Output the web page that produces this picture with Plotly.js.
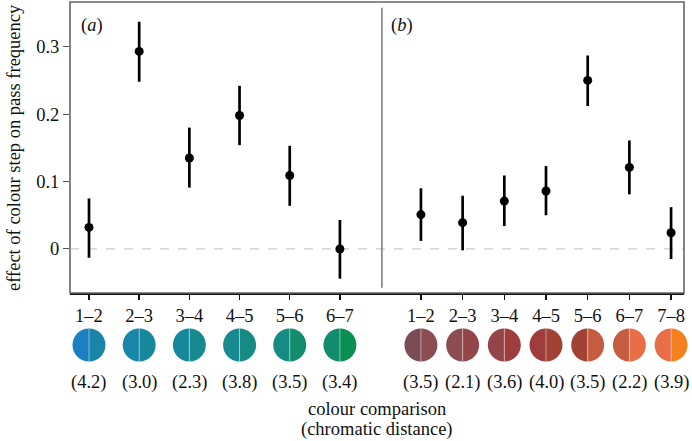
<!DOCTYPE html>
<html>
<head>
<meta charset="utf-8">
<script src="https://cdn.plot.ly/plotly-3.0.1.min.js"></script>
<style>html,body{margin:0;padding:0;background:#fff;overflow:hidden;}#chart{width:692px;height:441px;}</style>
</head>
<body>
<div id="chart"></div>
<script>
// ---- data ----
const catsA = ['1–2', '2–3', '3–4', '4–5', '5–6', '6–7'];
const valsA = [0.032, 0.293, 0.135, 0.198, 0.109, 0.000];
const hiA   = [0.075, 0.337, 0.180, 0.242, 0.153, 0.043];
const loA   = [-0.013, 0.248, 0.091, 0.154, 0.064, -0.044];
const distA = ['(4.2)', '(3.0)', '(2.3)', '(3.8)', '(3.5)', '(3.4)'];
const coloursA = ['#1b7fc1', '#1985a8', '#17889b', '#178a90', '#168b84', '#128c6c', '#0a8f53'];

const catsB = ['1–2', '2–3', '3–4', '4–5', '5–6', '6–7', '7–8'];
const valsB = [0.051, 0.039, 0.071, 0.086, 0.250, 0.121, 0.024];
const hiB   = [0.090, 0.079, 0.109, 0.123, 0.287, 0.161, 0.062];
const loB   = [0.012, -0.002, 0.034, 0.050, 0.212, 0.081, -0.015];
const distB = ['(3.5)', '(2.1)', '(3.6)', '(4.0)', '(3.5)', '(2.2)', '(3.9)'];
const coloursB = ['#7b4b56', '#8d4b52', '#944549', '#9f3d3d', '#a24235', '#c65c3f', '#e96d46', '#f5801e'];

const yTicks = [0, 0.1, 0.2, 0.3];
const yTickText = ['0', '0.1', '0.2', '0.3'];

// ---- helpers ----
const F = 'Liberation Serif, Times New Roman, serif';
const FS = 18.5;
const idx = a => a.map((_, i) => i + 1);
const up = (v, h) => v.map((x, i) => h[i] - x);
const dn = (v, l) => v.map((x, i) => x - l[i]);

const axA = {domain: [0, 0.508], range: [0.6215, 6.837]};
const axB = {domain: [0.508, 1], range: [0.064, 7.31]};
// convert an axis value to a paper fraction using the axis' own domain and range
const toPaper = (ax, v) => ax.domain[0] + (v - ax.range[0]) / (ax.range[1] - ax.range[0]) * (ax.domain[1] - ax.domain[0]);

function pointTrace(cats, vals, hi, lo, xa, ya) {
  return {
    type: 'scatter', mode: 'markers', x: idx(cats), y: vals, xaxis: xa, yaxis: ya,
    marker: {color: '#000', size: 9},
    error_y: {type: 'data', symmetric: false, array: up(vals, hi), arrayminus: dn(vals, lo),
              color: '#000', thickness: 2.7, width: 0},
    hoverinfo: 'skip', showlegend: false, cliponaxis: false
  };
}

const R = 16.5, K = 9.1;
const circleY = -0.179;
const shapes = [];
const annotations = [];

function addCircles(cats, colours, dist, ax) {
  cats.forEach((c, i) => {
    const xa = toPaper(ax, i + 1);
    // left half
    shapes.push({type: 'path', xref: 'paper', yref: 'paper', xsizemode: 'pixel', ysizemode: 'pixel',
      xanchor: xa, yanchor: circleY,
      path: `M0,${-R} C${-K},${-R} ${-R},${-K} ${-R},0 C${-R},${K} ${-K},${R} 0,${R} Z`,
      fillcolor: colours[i], line: {width: 0}});
    // right half
    shapes.push({type: 'path', xref: 'paper', yref: 'paper', xsizemode: 'pixel', ysizemode: 'pixel',
      xanchor: xa, yanchor: circleY,
      path: `M0,${-R} C${K},${-R} ${R},${-K} ${R},0 C${R},${K} ${K},${R} 0,${R} Z`,
      fillcolor: colours[i + 1], line: {width: 0}});
    shapes.push({type: 'path', xref: 'paper', yref: 'paper', xsizemode: 'pixel', ysizemode: 'pixel',
      xanchor: xa, yanchor: circleY, path: `M0,${-R + 0.5} L0,${R - 0.5}`,
      line: {color: 'rgba(255,255,255,0.45)', width: 1}});
    annotations.push({xref: 'paper', yref: 'paper', x: xa, y: -0.307, text: dist[i], showarrow: false,
      xanchor: 'center', yanchor: 'middle', font: {family: F, size: FS, color: '#111'}});
  });
}
addCircles(catsA, coloursA, distA, axA);
addCircles(catsB, coloursB, distB, axB);

// frame, separator and zero line
shapes.unshift({type: 'line', xref: 'paper', yref: 'y', x0: 0, x1: 1, y0: 0, y1: 0,
  line: {color: '#cccccc', width: 1.2, dash: 'dash'}, layer: 'below'});
shapes.push({type: 'rect', xref: 'paper', yref: 'paper', x0: 0, x1: 1, y0: 0, y1: 1,
  line: {color: '#666', width: 1.6}});
shapes.push({type: 'line', xref: 'paper', yref: 'paper', x0: 0.508, x1: 0.508, y0: 0.018, y1: 0.98,
  line: {color: '#777', width: 1.5}});

annotations.push(
  {xref: 'paper', yref: 'paper', x: 0.014, y: 0.918, xanchor: 'left', yanchor: 'middle', showarrow: false,
   text: '(<i>a</i>)', font: {family: F, size: FS, color: '#111'}},
  {xref: 'paper', yref: 'paper', x: 0.52, y: 0.918, xanchor: 'left', yanchor: 'middle', showarrow: false,
   text: '(<i>b</i>)', font: {family: F, size: FS, color: '#111'}},
  {xref: 'paper', yref: 'paper', x: 0.5, y: -0.397, xanchor: 'center', yanchor: 'middle', showarrow: false,
   text: 'colour comparison', font: {family: F, size: FS, color: '#111'}},
  {xref: 'paper', yref: 'paper', x: 0.5, y: -0.469, xanchor: 'center', yanchor: 'middle', showarrow: false,
   text: '(chromatic distance)', font: {family: F, size: FS, color: '#111'}},
  {xref: 'paper', yref: 'paper', x: -0.092, y: 0.5, xanchor: 'center', yanchor: 'middle', showarrow: false,
   textangle: -90, text: 'effect of colour step on pass frequency', font: {family: F, size: FS, color: '#111'}}
);

const xCommon = {
  type: 'linear', showgrid: false, zeroline: false, showline: true, linecolor: '#111', linewidth: 1.6,
  ticks: 'outside', ticklen: 5, tickwidth: 1.5, tickcolor: '#111',
  tickfont: {family: F, size: FS, color: '#111'}, fixedrange: true
};

const layout = {
  width: 692, height: 441,
  margin: {l: 70, r: 8, t: 2, b: 148},
  paper_bgcolor: '#fff', plot_bgcolor: '#fff',
  showlegend: false,
  xaxis: Object.assign({}, xCommon, {domain: axA.domain, range: axA.range,
    tickvals: idx(catsA), ticktext: catsA, anchor: 'y'}),
  xaxis2: Object.assign({}, xCommon, {domain: axB.domain, range: axB.range,
    tickvals: idx(catsB), ticktext: catsB, anchor: 'y2'}),
  yaxis: {range: [-0.0653, 0.3663], tickvals: yTicks, ticktext: yTickText, showgrid: false, zeroline: false,
    showline: false, ticks: 'outside', ticklen: 6, tickwidth: 1, tickcolor: '#555',
    tickfont: {family: F, size: FS, color: '#111'}, anchor: 'x', fixedrange: true},
  yaxis2: {matches: 'y', range: [-0.0653, 0.3663], visible: false, anchor: 'x2', showgrid: false, zeroline: false},
  shapes: shapes,
  annotations: annotations
};

const data = [
  pointTrace(catsA, valsA, hiA, loA, 'x', 'y'),
  pointTrace(catsB, valsB, hiB, loB, 'x2', 'y2')
];

Plotly.newPlot('chart', data, layout, {staticPlot: true, displayModeBar: false});
</script>
</body>
</html>
